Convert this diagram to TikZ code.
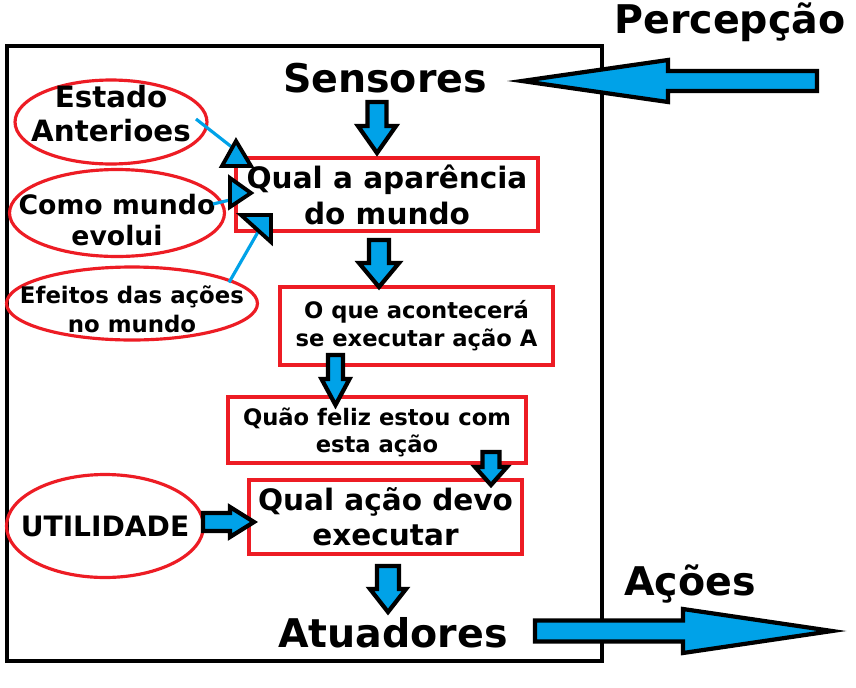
\documentclass[tikz,border=0pt]{standalone}
\usepackage{fontspec}
\setmainfont{DejaVu Sans}
\usetikzlibrary{calc,shapes.geometric}
\definecolor{paintred}{HTML}{ED1C24}
\definecolor{paintblue}{HTML}{00A2E8}
% block arrows: (x, top, head, tip, shaft half, head half)
\def\blkdown(#1,#2,#3,#4,#5,#6){\draw[blk] (#1-#5,#2) -- (#1+#5,#2) -- (#1+#5,#3) -- (#1+#6,#3) -- (#1,#4) -- (#1-#6,#3) -- (#1-#5,#3) -- cycle;}
% (y, tail, head, tip, shaft half, head half)
\def\blkside(#1,#2,#3,#4,#5,#6){\draw[blk] (#2,#1-#5) -- (#3,#1-#5) -- (#3,#1-#6) -- (#4,#1) -- (#3,#1+#6) -- (#3,#1+#5) -- (#2,#1+#5) -- cycle;}

\begin{document}
\begin{tikzpicture}[x=0.02cm, y=-0.02cm,
	box/.style={draw=paintred, line width=2.3pt, align=center, inner sep=0pt, font=\bfseries},
	oval/.style={ellipse, draw=paintred, line width=1.8pt, inner sep=0pt},
	ovaltext/.style={align=center, inner sep=0pt, font=\bfseries},
	link/.style={draw=paintblue, line width=1.8pt},
	tri/.style={draw=black, fill=paintblue, line width=2.2pt, line join=miter},
	blk/.style={draw=black, fill=paintblue, line width=2.4pt, line join=miter},
	tag/.style={anchor=base, inner sep=0pt, font=\bfseries\fontsize{22.5}{27}\selectfont}]
	%%%%% START %%%%%
	
	\useasboundingbox (0,0) rectangle (856,687);
	\fill[white] (0,0) rectangle (856,687);
	
	\draw[line width=2.3pt] (7,46) rectangle (602,661);
	
	\node[tag] (percep) at (730,33) {Percepção};
	\node[tag] (sens) at (385,92) {Sensores};
	\node[tag] (atuad) at (393,647) {Atuadores};
	\node[tag] (acoes) at (690,595) {Ações};
	
	\node[box, minimum width=6.04cm, minimum height=1.46cm, font=\bfseries\fontsize{16.8}{20.4}\selectfont] (aparencia) at (387,194.5) {Qual a aparência\\do mundo};
	\node[box, minimum width=5.46cm, minimum height=1.56cm, font=\bfseries\fontsize{12.9}{15.9}\selectfont] (acontece) at (416.5,326) {O que acontecerá\\se executar ação A};
	\node[box, minimum width=5.96cm, minimum height=1.32cm, font=\bfseries\fontsize{12.9}{15.3}\selectfont, text depth=0pt] (feliz) at (377,430) {Quão feliz estou com\\esta ação};
	\node[box, minimum width=5.46cm, minimum height=1.48cm, font=\bfseries\fontsize{16.8}{19.8}\selectfont] (acao) at (385.5,517) {Qual ação devo\\executar};
	
	\node[oval, minimum width=3.84cm, minimum height=1.68cm] (estado) at (111,122) {};
	\node[ovaltext, font=\bfseries\fontsize{16.7}{19.3}\selectfont] at ($(estado)+(0,-8)$) {Estado\\Anterioes};
	\node[oval, minimum width=4.3cm, minimum height=1.74cm] (evolui) at (117,213) {};
	\node[ovaltext, font=\bfseries\fontsize{15.2}{18.1}\selectfont] at ($(evolui)+(0,7)$) {Como mundo\\evolui};
	\node[oval, minimum width=5.02cm, minimum height=1.46cm] (efeitos) at (132,303.5) {};
	\node[ovaltext, font=\bfseries\fontsize{13}{16.4}\selectfont] at ($(efeitos)+(0,6)$) {Efeitos das ações\\no mundo};
	\node[oval, minimum width=3.94cm, minimum height=2.06cm] (util) at (105,526) {};
	\node[ovaltext, font=\bfseries\fontsize{16}{19}\selectfont] at (util) {UTILIDADE};
	
	% thin links into the little triangles
	\coordinate (t1) at (233,148);
	\coordinate (t2) at (230,200);
	\coordinate (t3) at (258,232);
	\draw[link] ($(estado.center)+(85,-3)$) -- (t1);
	\draw[link] ($(evolui.center)+(96,-9)$) -- (t2);
	\draw[link] ($(efeitos.center)+(97,-21)$) -- (t3);
	\draw[tri] (236,141) -- (251,166) -- (222,166) -- cycle;
	\draw[tri] (230,178) -- (251,193) -- (230,207) -- cycle;
	\draw[tri] (241,215) -- (271,215) -- (271,242) -- cycle;
	
	% block arrows
	\blkdown(377,102,126,153,9.5,19)
	\blkdown(379,240,263,287,10,20)
	\blkdown(335.5,355,379,405,7.5,14)
	\blkdown(491,452,467,485,8.5,16)
	\blkdown(388,566,589,612,11,18)
	\blkside(522,203,230,254,9,15)
	\blkside(81,817,668,522,10,21)
	\blkside(631,535,683,832,10.5,22)
	
	%%%%% END %%%%%
\end{tikzpicture}
\end{document}
